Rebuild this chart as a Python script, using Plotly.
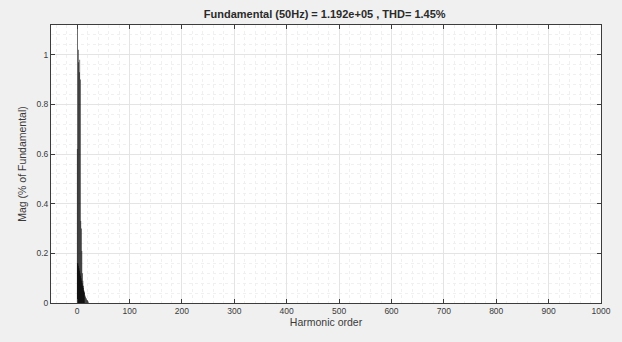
import plotly.graph_objects as go

# Harmonic spectrum (magnitude in % of the fundamental), 0.5-order resolution
orders = [0, 0.5, 1, 1.5, 2, 2.5, 3, 3.5, 4, 4.5, 5, 5.5, 6, 6.5, 7, 7.5,
          8, 8.5, 9, 9.5, 10, 10.5, 11, 11.5, 12, 12.5, 13, 13.5, 14, 15,
          16, 17, 18, 19, 20, 21]
mags = [0.62, 0.16, 100, 0.16, 1.02, 0.15, 0.97, 0.14, 0.93, 0.13, 0.98, 0.12,
        0.90, 0.11, 0.33, 0.10, 0.30, 0.09, 0.21, 0.08, 0.12, 0.07, 0.09, 0.06,
        0.07, 0.05, 0.05, 0.045, 0.04, 0.03, 0.025, 0.02, 0.015, 0.012, 0.01,
        0.006]

title_text = "Fundamental (50Hz) = 1.192e+05 , THD= 1.45%"
x_label = "Harmonic order"
y_label = "Mag (% of Fundamental)"

x_ticks = [0, 100, 200, 300, 400, 500, 600, 700, 800, 900, 1000]
y_ticks = [0, 0.2, 0.4, 0.6, 0.8, 1.0]
y_tick_text = ["0", "0.2", "0.4", "0.6", "0.8", "1"]

FONT = "Liberation Sans, Arial, sans-serif"
TXT = "#3a3a3a"
FRAME = "#3c3c3c"

fig = go.Figure(go.Bar(
    x=orders, y=mags, width=1.0,
    marker=dict(color="black", line=dict(width=0)),
    hoverinfo="skip",
))

axis_common = dict(
    showline=True, linecolor=FRAME, linewidth=1, mirror="ticks",
    ticks="inside", ticklen=4, tickcolor=FRAME, tickwidth=1,
    showgrid=True, gridcolor="#e4e4e4", gridwidth=1,
    zeroline=False,
    tickfont=dict(family=FONT, size=8.5, color=TXT),
)

fig.update_layout(
    width=622, height=342,
    margin=dict(l=51, r=21, t=25, b=39),
    paper_bgcolor="#f0f0f0",
    plot_bgcolor="white",
    bargap=0.02,
    showlegend=False,
    title=dict(text=title_text, x=0.522, xanchor="center", y=0.96, yanchor="middle",
               font=dict(family=FONT, size=11, color="#2a2a2a", weight="bold")),
    xaxis=dict(
        range=[-50, 1000], tickvals=x_ticks,
        minor=dict(dtick=20, tick0=0, showgrid=True, gridcolor="#f0f0f0",
                   griddash="dot", ticks=""),
        title=dict(text=x_label, standoff=3,
                   font=dict(family=FONT, size=10.5, color=TXT)),
        **axis_common,
    ),
    yaxis=dict(
        range=[0, 1.12], tickvals=y_ticks, ticktext=y_tick_text,
        minor=dict(dtick=0.04, tick0=0, showgrid=True, gridcolor="#f0f0f0",
                   griddash="dot", ticks=""),
        title=dict(text=y_label, standoff=7,
                   font=dict(family=FONT, size=10.5, color=TXT)),
        **axis_common,
    ),
)

fig.write_html("out.html", config={"staticPlot": True})
